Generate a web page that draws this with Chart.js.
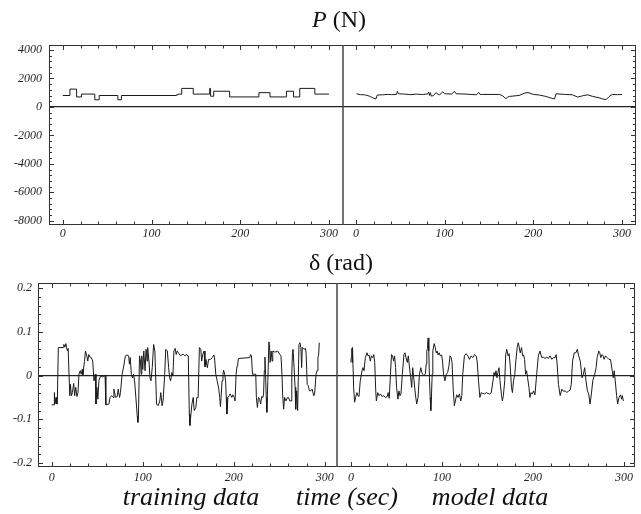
<!DOCTYPE html>
<html>
<head>
<meta charset="utf-8">
<script src="https://cdn.jsdelivr.net/npm/chart.js@4/dist/chart.umd.min.js"></script>
<style>
  body { margin: 0; background: #fff; width: 641px; height: 514px; position: relative; overflow: hidden;
         font-family: "Liberation Serif", "Times New Roman", serif; color: #111; }
  .wrap { position: absolute; left: 0; width: 641px; height: 250px; }
  .lbl { position: absolute; white-space: nowrap; line-height: 1; transform: translateX(-50%); }
</style>
</head>
<body>
<div class="wrap" style="top:0"><canvas id="forceChart" width="641" height="250"></canvas></div>
<div class="wrap" style="top:240px"><canvas id="deltaChart" width="641" height="250"></canvas></div>

<div class="lbl" style="left:339px;top:7px;font-size:24px"><i>P</i> (N)</div>
<div class="lbl" style="left:341px;top:250px;font-size:24px">δ (rad)</div>
<div class="lbl" style="left:191px;top:484px;font-size:26px;font-style:italic">training data</div>
<div class="lbl" style="left:347px;top:484px;font-size:26px;font-style:italic">time (sec)</div>
<div class="lbl" style="left:490px;top:484px;font-size:26px;font-style:italic">model data</div>

<script>
// time (sec) tick labels, shared by both halves of each panel
const timeTicks = [0, 100, 200, 300];
const forceTicks = [-8000, -6000, -4000, -2000, 0, 2000, 4000];
const deltaTicks = [-0.2, -0.1, 0, 0.1, 0.2];

// P (N), training data (stepped)
const trainForceTime = [0, 8, 15.5, 21, 36, 41, 62, 66, 128, 130, 134, 147, 165.5, 166.5, 170, 188, 221, 233.5, 252, 260, 267, 284, 300];
const trainForce = [800, 1250, 700, 900, 500, 800, 500, 800, 850, 900, 1300, 900, 1300, 750, 1100, 700, 1000, 700, 1100, 700, 1300, 900, 900];

// P (N), model data
const modelForceTime = [0.7, 5, 10, 15, 19, 22.5, 24, 30, 36, 40, 45.7, 46.8, 48, 55, 62, 68, 75, 81, 82, 83, 84, 85, 87, 90.6, 92, 94.4, 98, 100, 102, 108, 111, 113, 124, 135.6, 138.6, 140, 143, 162, 165.5, 169, 171, 173, 184, 190, 194, 200, 207, 214, 220, 224, 225.5, 235, 244, 250, 255.5, 261, 267, 274, 278, 282, 285.5, 289, 295, 300];
const modelForce = [920, 860, 850, 760, 640, 550, 830, 850, 880, 860, 875, 1100, 920, 900, 860, 900, 870, 910, 1050, 800, 1000, 760, 780, 1010, 900, 850, 1060, 930, 920, 900, 1100, 920, 900, 850, 1010, 880, 875, 875, 780, 575, 680, 736, 805, 966, 1010, 880, 830, 736, 620, 560, 920, 880, 850, 690, 780, 850, 736, 640, 560, 506, 736, 875, 860, 875];

// delta (rad), training data
const trainDeltaTime = [0, 2.5, 2.9, 3.6, 4.7, 5.4, 6.1, 7.2, 12.6, 13.3, 14.4, 15.5, 16.2, 17.3, 18, 19.8, 20.5, 21.6, 22.7, 24.1, 25.2, 26.3, 27.7, 28.8, 29.9, 31.3, 32.4, 33.5, 34.2, 35.3, 36, 37, 38.5, 39.6, 40.6, 42.1, 43.5, 45, 46.4, 47.8, 48.6, 49.6, 50.7, 51.8, 52.9, 54, 55.8, 58.6, 59.4, 62.9, 64, 65.8, 67.3, 68.3, 70.1, 71.9, 73, 74.5, 75.5, 77.3, 79.1, 80.9, 82.7, 84.5, 85.3, 86.3, 87.4, 88.8, 89.9, 91, 92.4, 93.9, 94.6, 95.3, 96.4, 97.5, 98.2, 98.9, 100, 101.1, 102.5, 103.6, 104.7, 105.4, 106.8, 107.9, 109, 110.4, 111.9, 113.3, 115.1, 116.9, 118.7, 119.8, 121.2, 122.3, 124.1, 125.2, 127, 128.4, 129.5, 130.6, 132, 133.1, 134.2, 135.6, 136.7, 137.8, 139.2, 141.4, 143.2, 145, 146.4, 147.5, 150, 151.1, 151.8, 152.9, 154, 155.4, 156.5, 158.3, 159.4, 160.8, 162.2, 163.7, 164.7, 165.8, 167.3, 168.3, 169.4, 170.9, 172.3, 174.5, 176.3, 178.1, 178.8, 180.2, 181.7, 183.5, 184.5, 185.3, 186, 187.1, 188.1, 188.8, 189.9, 191, 191.7, 192.4, 193.5, 195, 196, 197.8, 198.9, 200.4, 201.4, 202.5, 203.6, 204.3, 205, 217.6, 218.3, 219.4, 220.5, 223, 224.1, 224.8, 225.9, 227, 228.4, 229.5, 230.6, 232, 232.7, 233.5, 234.2, 234.9, 235.6, 236.3, 237.4, 238.5, 239.2, 239.9, 241, 242.1, 242.8, 244.6, 246.4, 248.2, 250.7, 251.8, 252.9, 253.6, 254.7, 255.8, 257.2, 259, 260.1, 261.5, 262.9, 263.7, 264.4, 265.1, 266.2, 267.3, 268, 269.1, 270.1, 271.6, 272.7, 273.7, 274.5, 275.2, 277, 278.8, 279.5, 280.6, 281.7, 283.1, 284.5, 286, 287.8, 288.8, 290.3, 291.4, 292.4, 293.2, 293.9];
const trainDelta = [-0.067, -0.067, -0.039, -0.065, -0.05, -0.065, -0.065, 0.064, 0.064, 0.071, 0.065, 0.073, 0.065, 0.056, 0.062, -0.046, -0.02, -0.046, -0.039, -0.018, -0.046, -0.027, -0.048, -0.039, 0.003, 0.011, 0.003, 0.014, 0.002, 0.022, 0.032, 0.056, 0.045, 0.033, 0.048, 0.042, 0.041, 0.033, -0.012, 0.003, -0.065, -0.027, -0.054, -0.012, -0.005, -0.001, -0.003, 0, -0.067, -0.065, -0.05, -0.046, -0.05, -0.031, -0.05, -0.048, -0.031, -0.05, -0.039, 0.003, 0.022, 0.045, 0.047, 0.045, 0.026, 0.041, 0.003, -0.005, 0.003, -0.012, -0.05, -0.092, -0.107, -0.088, 0.045, 0.033, 0.003, 0.045, 0.014, 0.056, 0.011, 0.06, 0.033, 0.064, 0.033, -0.005, -0.012, 0.018, 0.071, 0.056, -0.065, -0.069, -0.058, -0.039, -0.069, -0.058, 0.003, 0.06, 0.056, 0.018, -0.005, -0.012, 0.007, -0.001, 0.056, 0.062, 0.048, 0.056, 0.052, 0.045, 0.048, 0.048, 0.045, 0.048, 0.045, -0.088, -0.114, -0.088, -0.065, -0.05, -0.08, -0.073, -0.05, -0.05, 0.064, 0.06, 0.033, 0.048, 0.056, 0.02, 0.037, 0.018, 0.037, 0.037, 0.041, 0.047, 0.041, 0.003, -0.012, -0.031, -0.05, -0.071, -0.05, -0.012, 0.003, 0.012, 0.003, -0.012, -0.05, -0.088, -0.05, -0.046, -0.042, -0.05, -0.044, -0.05, -0.058, 0.003, 0.022, 0.026, 0.039, 0.041, 0.048, 0.045, 0.003, 0.003, 0.003, -0.05, -0.073, -0.05, -0.054, -0.065, -0.048, -0.05, -0.042, 0.011, 0.042, 0.003, -0.05, -0.084, -0.012, 0.077, 0.071, 0.03, 0.056, 0.033, 0.056, 0.054, 0.054, 0.056, 0.048, 0.045, 0.003, -0.042, -0.077, -0.05, -0.058, -0.05, -0.05, -0.058, -0.058, 0.003, 0.052, 0.06, 0.018, -0.027, -0.077, -0.035, -0.08, 0.071, 0.075, 0.064, 0.018, 0.064, 0.06, 0.062, 0.048, -0.02, -0.023, -0.035, -0.035, -0.031, -0.046, -0.042, 0.003, 0.011, 0.041, 0.048, 0.075];

// delta (rad), model data
const modelDeltaTime = [0, 0.4, 1.1, 1.5, 1.8, 3, 4.1, 5.2, 6.6, 7.7, 8.9, 10.3, 12.2, 13.3, 14.4, 15.9, 17.7, 18.8, 19.9, 21.4, 22.5, 24, 25.1, 26.2, 27.3, 28, 29.5, 31, 32.5, 34.3, 36.2, 38, 39.9, 41, 42.1, 43.5, 44.6, 45.8, 46.9, 48, 49.1, 50.2, 51.7, 52.8, 53.9, 55, 56.5, 58.3, 59.4, 60.5, 62, 63.1, 64.2, 65.7, 66.8, 67.9, 69.4, 70.8, 72.3, 73.8, 75.3, 76.8, 77.9, 79, 80.4, 81.9, 82.7, 83.4, 84.1, 84.9, 85.6, 86.3, 87.1, 87.8, 88.6, 89.3, 90, 91.5, 92.6, 93.7, 94.8, 95.9, 97, 98.2, 99.6, 100.7, 101.8, 103.3, 104.8, 106.3, 107.7, 108.9, 110, 111.1, 112.5, 113.7, 114.8, 116.2, 117.7, 119.2, 120.7, 121.8, 122.9, 124.7, 126.6, 128.4, 130.3, 132.1, 133.9, 135.8, 137.6, 138.7, 140.2, 141.7, 143.2, 145, 146.9, 148.7, 150.6, 152.4, 154.2, 156.1, 157.2, 158.3, 159.4, 160.5, 161.6, 162.7, 163.8, 165.3, 166.4, 167.5, 169, 170.1, 171.2, 172.7, 173.8, 174.9, 176.4, 177.5, 178.6, 180.1, 181.2, 182.7, 183.8, 184.9, 186, 187.5, 188.6, 189.7, 190.8, 191.9, 193, 194.1, 195.6, 196.7, 197.8, 199.3, 200.7, 202.2, 204.1, 205.9, 207.7, 209.6, 211.4, 213.3, 215.1, 217, 218.8, 220.7, 222.5, 224.4, 225.5, 226.6, 228, 229.9, 231.7, 233.6, 235.4, 237.3, 239.1, 241, 242.1, 243.5, 245.4, 247.2, 248.7, 250.2, 252, 253.9, 255.4, 256.8, 258.3, 259.8, 261.3, 262.7, 264.2, 265.7, 267.9, 269.4, 270.5, 272.3, 273.4, 274.5, 276, 277.1, 278.2, 279.7, 281.5, 283.4, 285.2, 287.1, 288.2, 289.3, 290.4, 291.9, 293, 294.5, 296.3, 297.4, 298.2, 299.3];
const modelDelta = [0.03, 0.041, 0.062, 0.03, 0.064, -0.027, -0.061, -0.05, -0.039, -0.046, -0.048, -0.012, 0.011, 0.018, 0.011, 0.041, 0.052, 0.045, 0.047, 0.033, 0.045, 0.041, 0.048, 0.03, -0.035, -0.058, -0.039, -0.046, -0.042, -0.048, -0.046, -0.05, -0.048, -0.039, -0.052, 0.003, 0.048, 0.045, 0.033, 0.045, 0.018, -0.027, -0.054, -0.035, -0.046, -0.042, 0.003, 0.048, 0.052, 0.041, 0.03, 0.045, 0.022, -0.005, -0.027, 0.018, -0.012, -0.042, -0.065, -0.05, 0.003, 0.018, 0.007, 0.003, -0.001, 0.005, 0.026, 0.056, 0.062, 0.086, 0.056, -0.005, -0.05, -0.08, -0.042, 0.003, 0.056, 0.073, 0.065, 0.052, 0.056, 0.047, 0.052, 0.045, 0.047, 0.033, 0.003, -0.012, 0.003, 0.007, 0.022, 0.045, 0.042, 0.03, -0.035, -0.069, -0.058, -0.044, -0.05, -0.042, -0.058, -0.046, 0.003, 0.045, 0.05, 0.045, 0.037, 0.045, 0.041, 0.048, 0.045, 0.033, -0.012, -0.05, -0.039, -0.041, -0.042, -0.039, -0.041, -0.042, -0.039, -0.012, 0.007, -0.001, 0.011, -0.005, 0.007, 0.018, -0.012, -0.042, -0.058, -0.046, -0.012, 0.048, 0.06, 0.045, 0.05, 0.026, -0.027, -0.039, -0.012, 0.003, 0.033, 0.064, 0.075, 0.065, 0.052, 0.064, 0.045, 0.047, 0.037, 0.003, 0.011, -0.005, -0.027, -0.05, -0.039, -0.042, -0.035, -0.044, 0.003, 0.045, 0.056, 0.041, 0.042, 0.039, 0.042, 0.039, 0.045, 0.037, 0.041, 0.041, 0.048, 0.026, -0.02, -0.046, -0.031, -0.036, -0.035, -0.039, -0.035, -0.033, -0.02, 0.033, 0.052, 0.052, 0.06, 0.045, 0.033, -0.005, 0.003, 0.018, -0.012, -0.035, -0.042, -0.065, -0.042, -0.012, 0.003, 0.018, 0.041, 0.056, 0.052, 0.041, 0.048, 0.045, 0.037, 0.045, 0.041, 0.037, 0.037, 0.011, -0.005, 0.011, -0.012, -0.046, -0.065, -0.05, -0.044, -0.054, -0.046, -0.058];

const serif = "'Liberation Serif', 'Times New Roman', serif";
const INK = "#1a1a1a";

// frame, divider and inward tick marks (Mathematica style)
const framePlugin = {
  id: "frame",
  afterDraw(chart, args, opts) {
    const { ctx, chartArea: a, scales: { x, y } } = chart;
    ctx.save();
    ctx.strokeStyle = "#333";
    ctx.lineWidth = 1;
    ctx.strokeRect(Math.round(a.left) + 0.5, Math.round(a.top) + 0.5, Math.round(a.width) - 1, Math.round(a.height) - 1);

    ctx.beginPath();
    for (const off of [0, opts.offset]) {
      for (let t = 0; t <= 300; t += 20) {
        const px = Math.round(x.getPixelForValue(t + off)) + 0.5;
        const len = t % 100 === 0 ? 5 : 3.5;
        ctx.moveTo(px, a.top); ctx.lineTo(px, a.top + len);
        ctx.moveTo(px, a.bottom); ctx.lineTo(px, a.bottom - len);
      }
    }
    const n = Math.round((y.max - y.min) / opts.minor) + 2;
    const start = Math.ceil(y.min / opts.minor);
    for (let i = start; i < start + n; i++) {
      const v = i * opts.minor;
      if (v < y.min || v > y.max) continue;
      const py = Math.round(y.getPixelForValue(v)) + 0.5;
      const len = Math.abs(i % opts.per) < 1e-9 ? 5 : 3;
      ctx.moveTo(a.left, py); ctx.lineTo(a.left + len, py);
      ctx.moveTo(a.right, py); ctx.lineTo(a.right - len, py);
    }
    ctx.stroke();

    ctx.lineWidth = 1.5;
    ctx.strokeStyle = "#444";
    const dx = Math.round(x.getPixelForValue(opts.divider));
    ctx.beginPath();
    ctx.moveTo(dx, a.top); ctx.lineTo(dx, a.bottom);
    ctx.stroke();
    ctx.restore();
  },
};

const toPoints = (times, values, off) => times.map((t, i) => ({ x: t + off, y: values[i] }));

function makeChart(el, cfg) {
  const tickFont = { family: serif, style: "italic", size: 12 };
  return new Chart(el, {
    type: "line",
    plugins: [framePlugin],
    data: { datasets: cfg.datasets },
    options: {
      responsive: false,
      animation: false,
      events: [],
      layout: { padding: { top: cfg.top, right: cfg.right, left: 0, bottom: 0 } },
      elements: { point: { radius: 0 }, line: { borderWidth: 1, borderColor: INK, tension: 0 } },
      plugins: {
        legend: { display: false },
        tooltip: { enabled: false },
        frame: { offset: cfg.offset, divider: cfg.divider, minor: cfg.minor, per: cfg.per },
      },
      scales: {
        x: {
          type: "linear",
          min: cfg.xMin,
          max: cfg.xMax,
          afterFit: s => { s.height = cfg.xHeight; },
          afterBuildTicks: s => {
            s.ticks = timeTicks.concat(timeTicks.map(t => t + cfg.offset)).map(v => ({ value: v }));
          },
          ticks: {
            autoSkip: false,
            maxRotation: 0,
            padding: cfg.xPad,
            color: "#222",
            font: tickFont,
            callback: v => String(Math.round(v > cfg.divider ? v - cfg.offset : v)),
          },
          grid: { display: false, drawTicks: false },
          border: { display: false },
        },
        y: {
          type: "linear",
          min: cfg.yMin,
          max: cfg.yMax,
          afterFit: s => { s.width = cfg.yWidth; },
          afterBuildTicks: s => { s.ticks = cfg.yTicks.map(v => ({ value: v })); },
          ticks: { padding: cfg.yPad, color: "#222", font: tickFont, callback: v => String(v) },
          grid: {
            drawTicks: false,
            lineWidth: 1.3,
            color: c => (c.tick && c.tick.value === 0 ? "#222" : "rgba(0,0,0,0)"),
          },
          border: { display: false },
        },
      },
    },
  });
}

const FORCE_OFFSET = 330.3;
makeChart(document.getElementById("forceChart"), {
  top: 45, right: 5, xHeight: 25, yWidth: 49, xPad: 2, yPad: 7,
  xMin: -15.6, xMax: 646, offset: FORCE_OFFSET, divider: 315.3,
  yMin: -8300, yMax: 4350, yTicks: forceTicks, minor: 400, per: 5,
  datasets: [
    { data: toPoints(trainForceTime, trainForce, 0), stepped: true },
    { data: toPoints(modelForceTime, modelForce, FORCE_OFFSET) },
  ],
});

const DELTA_OFFSET = 328.6;
makeChart(document.getElementById("deltaChart"), {
  top: 43, right: 6, xHeight: 23, yWidth: 38, xPad: 4, yPad: 6,
  xMin: -15.1, xMax: 640.7, offset: DELTA_OFFSET, divider: 312.9,
  yMin: -0.209, yMax: 0.2115, yTicks: deltaTicks, minor: 0.02, per: 5,
  datasets: [
    { data: toPoints(trainDeltaTime, trainDelta, 0) },
    { data: toPoints(modelDeltaTime, modelDelta, DELTA_OFFSET) },
  ],
});
</script>
</body>
</html>
